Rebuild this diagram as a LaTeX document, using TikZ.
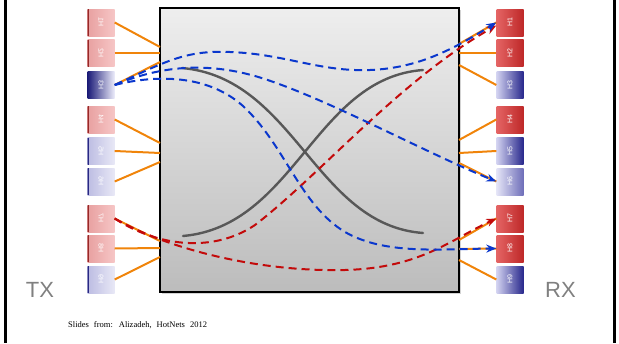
\documentclass[tikz,border=0pt]{standalone}
\usepackage{fontspec}
\setsansfont{Liberation Sans}
\newfontfamily\slidefont{Liberation Serif}
\usetikzlibrary{arrows.meta,positioning,shadows}
\newcommand\ColL{101}
\newcommand\ColR{510}
\definecolor{wireorange}{RGB}{240,132,10}
\definecolor{dashblue}{RGB}{10,55,205}
\definecolor{dashred}{RGB}{195,10,10}
\definecolor{curvegray}{RGB}{88,88,88}
\definecolor{pinkA}{RGB}{232,160,160}
\definecolor{pinkB}{RGB}{246,198,198}
\definecolor{pinkEdge}{RGB}{150,40,40}
\definecolor{paleA}{RGB}{188,188,226}
\definecolor{paleB}{RGB}{232,232,246}
\definecolor{paleEdge}{RGB}{40,40,130}
\definecolor{deepA}{RGB}{28,28,120}
\definecolor{deepB}{RGB}{236,236,250}
\definecolor{redA}{RGB}{228,100,100}
\definecolor{redB}{RGB}{190,40,40}
\definecolor{blueA}{RGB}{210,210,240}
\definecolor{blueB}{RGB}{40,40,140}
\definecolor{lblueA}{RGB}{228,228,246}
\definecolor{lblueB}{RGB}{110,110,185}
\definecolor{fabricTop}{RGB}{238,238,238}
\definecolor{fabricBot}{RGB}{188,188,188}
\definecolor{sidegray}{RGB}{128,128,128}
\tikzset{
  host/.style={
    inner sep = 0pt,
    minimum width = 27pt,
    minimum height = 27pt,
    text = white,
    font = \sffamily\fontsize{7}{7}\selectfont
  },
  pinkL/.style={
    host,
    left color = pinkA,
    right color = pinkB,
    path picture={\draw[line width=2pt, pinkEdge] (path picture bounding box.south west) -- (path picture bounding box.north west);}
  },
  paleL/.style={
    host,
    left color = paleA,
    right color = paleB,
    path picture={\draw[line width=2pt, paleEdge] (path picture bounding box.south west) -- (path picture bounding box.north west);}
  },
  deepL/.style={
    host,
    left color = deepA,
    right color = deepB
  },
  redR/.style={
    host,
    left color = redA,
    right color = redB
  },
  blueR/.style={
    host,
    left color = blueA,
    right color = blueB
  },
  paleR/.style={
    host,
    left color = lblueA,
    right color = lblueB
  },
  switchbox/.style={
    draw,
    line width = 2.4pt,
    minimum width = 299pt,
    minimum height = 284pt,
    top color = fabricTop,
    bottom color = fabricBot,
    drop shadow = {opacity=0.35, shadow xshift=1.5pt, shadow yshift=-1.5pt}
  },
  wire/.style={
    draw = wireorange,
    line width = 2pt
  },
  flowB/.style={
    draw = dashblue,
    line width = 2pt,
    dash pattern = on 8pt off 5pt,
    -{Stealth[length=10pt,width=8pt]}
  },
  flowR/.style={
    draw = dashred,
    line width = 2pt,
    dash pattern = on 8pt off 5pt,
    -{Stealth[length=10pt,width=8pt]}
  },
  route/.style={
    draw = curvegray,
    line width = 2.4pt,
    line cap = round
  },
  side/.style={
    text = sidegray,
    font = \sffamily\fontsize{22}{22}\selectfont
  },
}

\begin{document}
\begin{tikzpicture}[x=1pt,y=-1pt]
    \useasboundingbox (0,0) rectangle (619,343);
    \draw[line width=2.5pt] (5.3,0) -- (5.3,343);
    \draw[line width=2.5pt] (614.5,0) -- (614.5,343);

    % the switch fabric
    \node[switchbox] (sw) at (309.5,150) {};

    % sending hosts
    \node[pinkL] (hL1) at (\ColL,22.5) {\reflectbox{\rotatebox{90}{H1}}};
    \node[pinkL] (hL2) at (\ColL,53) {\reflectbox{\rotatebox{90}{H2}}};
    \node[deepL] (hL3) at (\ColL,85) {\reflectbox{\rotatebox{90}{H3}}};
    \node[pinkL] (hL4) at (\ColL,119.5) {\reflectbox{\rotatebox{90}{H4}}};
    \node[paleL] (hL5) at (\ColL,151) {\reflectbox{\rotatebox{90}{H5}}};
    \node[paleL] (hL6) at (\ColL,181.5) {\reflectbox{\rotatebox{90}{H6}}};
    \node[pinkL] (hL7) at (\ColL,218.5) {\reflectbox{\rotatebox{90}{H7}}};
    \node[pinkL] (hL8) at (\ColL,248.5) {\reflectbox{\rotatebox{90}{H8}}};
    \node[paleL] (hL9) at (\ColL,279.5) {\reflectbox{\rotatebox{90}{H9}}};

    % receiving hosts
    \node[redR] (hR1) at (\ColR,22.5) {\rotatebox{90}{H1}};
    \node[redR] (hR2) at (\ColR,53) {\rotatebox{90}{H2}};
    \node[blueR] (hR3) at (\ColR,85) {\rotatebox{90}{H3}};
    \node[redR] (hR4) at (\ColR,119.5) {\rotatebox{90}{H4}};
    \node[blueR] (hR5) at (\ColR,151) {\rotatebox{90}{H5}};
    \node[paleR] (hR6) at (\ColR,181.5) {\rotatebox{90}{H6}};
    \node[redR] (hR7) at (\ColR,218.5) {\rotatebox{90}{H7}};
    \node[redR] (hR8) at (\ColR,248.5) {\rotatebox{90}{H8}};
    \node[blueR] (hR9) at (\ColR,279.5) {\rotatebox{90}{H9}};

    % ports on the fabric
    \coordinate (inL1) at (160,47);
    \coordinate (inL2) at (160,53);
    \coordinate (inL3) at (160,62);
    \coordinate (inL4) at (160,143);
    \coordinate (inL5) at (160,153);
    \coordinate (inL6) at (160,162);
    \coordinate (inL7) at (160,241);
    \coordinate (inL8) at (160,248);
    \coordinate (inL9) at (160,257);
    \coordinate (inR1) at (459,44);
    \coordinate (inR2) at (459,53);
    \coordinate (inR3) at (459,65);
    \coordinate (inR4) at (459,140);
    \coordinate (inR5) at (459,153);
    \coordinate (inR6) at (459,163);
    \coordinate (inR7) at (459,240);
    \coordinate (inR8) at (459,249);
    \coordinate (inR9) at (459,260);

    \draw[wire] (hL1.east) -- (inL1);
    \draw[wire] (hL2.east) -- (inL2);
    \draw[wire] (hL3.east) -- (inL3);
    \draw[wire] (hL4.east) -- (inL4);
    \draw[wire] (hL5.east) -- (inL5);
    \draw[wire] (hL6.east) -- (inL6);
    \draw[wire] (hL7.east) -- (inL7);
    \draw[wire] (hL8.east) -- (inL8);
    \draw[wire] (hL9.east) -- (inL9);
    \draw[wire] (inR1) -- (hR1.west);
    \draw[wire] (inR2) -- (hR2.west);
    \draw[wire] (inR3) -- (hR3.west);
    \draw[wire] (inR4) -- (hR4.west);
    \draw[wire] (inR5) -- (hR5.west);
    \draw[wire] (inR6) -- (hR6.west);
    \draw[wire] (inR7) -- (hR7.west);
    \draw[wire] (inR8) -- (hR8.west);
    \draw[wire] (inR9) -- (hR9.west);

    % internal paths
    \draw[route] (182,68) .. controls (295,78) and (315,225) .. (423,233);
    \draw[route] (183,236) .. controls (295,226) and (315,78) .. (423,70);

    % flows
    \draw[flowR] (hL7.east) .. controls (160,248) and (215,252) .. (255,225)
        .. controls (320,175) and (400,80) .. ([yshift=-3pt]hR1.west);
    \draw[flowR] (hL7.east) .. controls (170,250) and (260,272) .. (345,270)
        .. controls (420,268) and (450,240) .. (hR7.west);
    \draw[flowB] (hL3.east) .. controls (165,62) and (185,50) .. (230,52)
        .. controls (285,54) and (320,72) .. (370,70)
        .. controls (420,68) and (455,48) .. (hR1.west);
    \draw[flowB] (hL3.east) .. controls (160,66) and (205,62) .. (255,76)
        .. controls (320,95) and (420,150) .. (hR6.west);
    \draw[flowB] (hL3.east) .. controls (150,76) and (205,72) .. (243,106)
        .. controls (285,145) and (300,205) .. (345,232)
        .. controls (385,255) and (440,249) .. (hR8.west);

    % labels
    \node[side] (tx) at (40,290) {TX};
    \node[side] (rx) at (560.5,290) {RX};
    \node[anchor=west, inner sep=0pt, font=\slidefont\fontsize{8.5}{9}\selectfont] (src) at (68,325)
        {Slides\hspace{5pt}from:\hspace{6pt}Alizadeh,\hspace{5pt}HotNets\hspace{5pt}2012};
\end{tikzpicture}
\end{document}
